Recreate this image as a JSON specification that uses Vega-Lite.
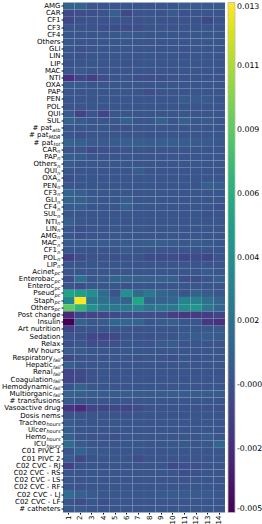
{
"$schema": "https://vega.github.io/schema/vega-lite/v6.json",
"width": 162, "height": 510,
"autosize": {"type": "none"},
"padding": {"left": 63, "top": 2.5, "right": 37, "bottom": 11.5},
"background": "white",
"config": {"view": {"stroke": null}, "axis": {"labelFont": "DejaVu Sans", "labelFontSize": 8, "labelColor": "black", "tickColor": "black", "title": null}},
"datasets": {
"cells": [
{"f":"AMG","c":1,"v":0.0009},{"f":"AMG","c":2,"v":0.0008},{"f":"AMG","c":3,"v":0.0002},{"f":"AMG","c":4,"v":0.0001},{"f":"AMG","c":5,"v":0.0001},{"f":"AMG","c":6,"v":0.0002},{"f":"AMG","c":7,"v":0.0001},{"f":"AMG","c":8,"v":0.0001},{"f":"AMG","c":9,"v":0.0002},{"f":"AMG","c":10,"v":0.0001},{"f":"AMG","c":11,"v":0.0003},{"f":"AMG","c":12,"v":0.0003},{"f":"AMG","c":13,"v":0.0004},{"f":"AMG","c":14,"v":0.0003},
{"f":"CAR","c":1,"v":-0.0007},{"f":"CAR","c":2,"v":-0.0004},{"f":"CAR","c":3,"v":-0.0003},{"f":"CAR","c":4,"v":-0.0002},{"f":"CAR","c":5,"v":0.0006},{"f":"CAR","c":6,"v":-0.0008},{"f":"CAR","c":7,"v":0},{"f":"CAR","c":8,"v":0.0001},{"f":"CAR","c":9,"v":-0.0001},{"f":"CAR","c":10,"v":0.0003},{"f":"CAR","c":11,"v":-0.0003},{"f":"CAR","c":12,"v":0.0001},{"f":"CAR","c":13,"v":0},{"f":"CAR","c":14,"v":0.0001},
{"f":"CF1","c":1,"v":-0.0009},{"f":"CF1","c":2,"v":-0.0003},{"f":"CF1","c":3,"v":-0.0002},{"f":"CF1","c":4,"v":-0.0001},{"f":"CF1","c":5,"v":0},{"f":"CF1","c":6,"v":-0.0001},{"f":"CF1","c":7,"v":-0.0002},{"f":"CF1","c":8,"v":0.0001},{"f":"CF1","c":9,"v":-0.0001},{"f":"CF1","c":10,"v":-0.0002},{"f":"CF1","c":11,"v":-0.0002},{"f":"CF1","c":12,"v":-0.0001},{"f":"CF1","c":13,"v":-0.0009},{"f":"CF1","c":14,"v":-0.0001},
{"f":"CF3","c":1,"v":0},{"f":"CF3","c":2,"v":-0.0001},{"f":"CF3","c":3,"v":-0.0002},{"f":"CF3","c":4,"v":-0.0005},{"f":"CF3","c":5,"v":-0.0006},{"f":"CF3","c":6,"v":-0.0006},{"f":"CF3","c":7,"v":-0.0004},{"f":"CF3","c":8,"v":0},{"f":"CF3","c":9,"v":0},{"f":"CF3","c":10,"v":-0.0001},{"f":"CF3","c":11,"v":0.0001},{"f":"CF3","c":12,"v":0},{"f":"CF3","c":13,"v":0.0001},{"f":"CF3","c":14,"v":0},
{"f":"CF4","c":1,"v":0.0001},{"f":"CF4","c":2,"v":0},{"f":"CF4","c":3,"v":0.0001},{"f":"CF4","c":4,"v":0},{"f":"CF4","c":5,"v":0.0002},{"f":"CF4","c":6,"v":0.0004},{"f":"CF4","c":7,"v":0.0002},{"f":"CF4","c":8,"v":0.0001},{"f":"CF4","c":9,"v":0},{"f":"CF4","c":10,"v":0.0001},{"f":"CF4","c":11,"v":0},{"f":"CF4","c":12,"v":0.0002},{"f":"CF4","c":13,"v":0.0001},{"f":"CF4","c":14,"v":0},
{"f":"Others","c":1,"v":0.0002},{"f":"Others","c":2,"v":0.0001},{"f":"Others","c":3,"v":0},{"f":"Others","c":4,"v":0.0001},{"f":"Others","c":5,"v":0},{"f":"Others","c":6,"v":0.0001},{"f":"Others","c":7,"v":0},{"f":"Others","c":8,"v":0},{"f":"Others","c":9,"v":0.0001},{"f":"Others","c":10,"v":0},{"f":"Others","c":11,"v":0.0001},{"f":"Others","c":12,"v":0.0002},{"f":"Others","c":13,"v":0},{"f":"Others","c":14,"v":0.0001},
{"f":"GLI","c":1,"v":0},{"f":"GLI","c":2,"v":-0.0003},{"f":"GLI","c":3,"v":0},{"f":"GLI","c":4,"v":0.0001},{"f":"GLI","c":5,"v":0},{"f":"GLI","c":6,"v":0},{"f":"GLI","c":7,"v":0.0001},{"f":"GLI","c":8,"v":0},{"f":"GLI","c":9,"v":-0.0001},{"f":"GLI","c":10,"v":0},{"f":"GLI","c":11,"v":-0.0001},{"f":"GLI","c":12,"v":0},{"f":"GLI","c":13,"v":0.0001},{"f":"GLI","c":14,"v":0},
{"f":"LIN","c":1,"v":0},{"f":"LIN","c":2,"v":-0.0001},{"f":"LIN","c":3,"v":0.0001},{"f":"LIN","c":4,"v":0},{"f":"LIN","c":5,"v":0.0001},{"f":"LIN","c":6,"v":0},{"f":"LIN","c":7,"v":0},{"f":"LIN","c":8,"v":0.0001},{"f":"LIN","c":9,"v":0},{"f":"LIN","c":10,"v":0.0001},{"f":"LIN","c":11,"v":0},{"f":"LIN","c":12,"v":0},{"f":"LIN","c":13,"v":0.0001},{"f":"LIN","c":14,"v":0},
{"f":"LIP","c":1,"v":-0.0003},{"f":"LIP","c":2,"v":0},{"f":"LIP","c":3,"v":0.0001},{"f":"LIP","c":4,"v":0},{"f":"LIP","c":5,"v":0},{"f":"LIP","c":6,"v":-0.0001},{"f":"LIP","c":7,"v":0},{"f":"LIP","c":8,"v":0.0001},{"f":"LIP","c":9,"v":0},{"f":"LIP","c":10,"v":0},{"f":"LIP","c":11,"v":0.0001},{"f":"LIP","c":12,"v":0},{"f":"LIP","c":13,"v":0},{"f":"LIP","c":14,"v":0.0001},
{"f":"MAC","c":1,"v":0.0001},{"f":"MAC","c":2,"v":0.0003},{"f":"MAC","c":3,"v":0.0001},{"f":"MAC","c":4,"v":0},{"f":"MAC","c":5,"v":0.0001},{"f":"MAC","c":6,"v":0},{"f":"MAC","c":7,"v":0.0001},{"f":"MAC","c":8,"v":0},{"f":"MAC","c":9,"v":0.0001},{"f":"MAC","c":10,"v":0},{"f":"MAC","c":11,"v":0},{"f":"MAC","c":12,"v":0.0001},{"f":"MAC","c":13,"v":0},{"f":"MAC","c":14,"v":0},
{"f":"NTI","c":1,"v":-0.0022},{"f":"NTI","c":2,"v":-0.0009},{"f":"NTI","c":3,"v":-0.0014},{"f":"NTI","c":4,"v":-0.0005},{"f":"NTI","c":5,"v":-0.0001},{"f":"NTI","c":6,"v":0},{"f":"NTI","c":7,"v":-0.0004},{"f":"NTI","c":8,"v":-0.0004},{"f":"NTI","c":9,"v":-0.0004},{"f":"NTI","c":10,"v":-0.0002},{"f":"NTI","c":11,"v":-0.0001},{"f":"NTI","c":12,"v":-0.0001},{"f":"NTI","c":13,"v":-0.0001},{"f":"NTI","c":14,"v":-0.0002},
{"f":"OXA","c":1,"v":0.0004},{"f":"OXA","c":2,"v":0.0003},{"f":"OXA","c":3,"v":0.0001},{"f":"OXA","c":4,"v":0},{"f":"OXA","c":5,"v":0.0001},{"f":"OXA","c":6,"v":0.0001},{"f":"OXA","c":7,"v":0},{"f":"OXA","c":8,"v":0},{"f":"OXA","c":9,"v":0.0001},{"f":"OXA","c":10,"v":0.0001},{"f":"OXA","c":11,"v":0},{"f":"OXA","c":12,"v":0.0001},{"f":"OXA","c":13,"v":0},{"f":"OXA","c":14,"v":0.0001},
{"f":"PAP","c":1,"v":0.0001},{"f":"PAP","c":2,"v":0},{"f":"PAP","c":3,"v":0.0001},{"f":"PAP","c":4,"v":0},{"f":"PAP","c":5,"v":0},{"f":"PAP","c":6,"v":0.0001},{"f":"PAP","c":7,"v":0},{"f":"PAP","c":8,"v":-0.0005},{"f":"PAP","c":9,"v":0},{"f":"PAP","c":10,"v":0.0001},{"f":"PAP","c":11,"v":0},{"f":"PAP","c":12,"v":0},{"f":"PAP","c":13,"v":0.0001},{"f":"PAP","c":14,"v":0},
{"f":"PEN","c":1,"v":0},{"f":"PEN","c":2,"v":0.0001},{"f":"PEN","c":3,"v":0},{"f":"PEN","c":4,"v":0.0001},{"f":"PEN","c":5,"v":0},{"f":"PEN","c":6,"v":0},{"f":"PEN","c":7,"v":0.0001},{"f":"PEN","c":8,"v":0},{"f":"PEN","c":9,"v":0.0001},{"f":"PEN","c":10,"v":0},{"f":"PEN","c":11,"v":0.0004},{"f":"PEN","c":12,"v":0.0004},{"f":"PEN","c":13,"v":0.0003},{"f":"PEN","c":14,"v":0.0001},
{"f":"POL","c":1,"v":0.0001},{"f":"POL","c":2,"v":0},{"f":"POL","c":3,"v":0.0001},{"f":"POL","c":4,"v":0},{"f":"POL","c":5,"v":0},{"f":"POL","c":6,"v":0.0001},{"f":"POL","c":7,"v":0},{"f":"POL","c":8,"v":0.0001},{"f":"POL","c":9,"v":0},{"f":"POL","c":10,"v":0},{"f":"POL","c":11,"v":0.0001},{"f":"POL","c":12,"v":0},{"f":"POL","c":13,"v":0},{"f":"POL","c":14,"v":0.0001},
{"f":"QUI","c":1,"v":0.0003},{"f":"QUI","c":2,"v":-0.0012},{"f":"QUI","c":3,"v":0},{"f":"QUI","c":4,"v":-0.0011},{"f":"QUI","c":5,"v":0},{"f":"QUI","c":6,"v":0.0001},{"f":"QUI","c":7,"v":0},{"f":"QUI","c":8,"v":0.0001},{"f":"QUI","c":9,"v":0},{"f":"QUI","c":10,"v":0},{"f":"QUI","c":11,"v":0.0001},{"f":"QUI","c":12,"v":0},{"f":"QUI","c":13,"v":0},{"f":"QUI","c":14,"v":0.0001},
{"f":"SUL","c":1,"v":0.0008},{"f":"SUL","c":2,"v":0.0003},{"f":"SUL","c":3,"v":0.0001},{"f":"SUL","c":4,"v":0.0001},{"f":"SUL","c":5,"v":0.0002},{"f":"SUL","c":6,"v":0.0007},{"f":"SUL","c":7,"v":0.0001},{"f":"SUL","c":8,"v":0.0002},{"f":"SUL","c":9,"v":0.0009},{"f":"SUL","c":10,"v":0.0001},{"f":"SUL","c":11,"v":0.0006},{"f":"SUL","c":12,"v":0.0002},{"f":"SUL","c":13,"v":0.0004},{"f":"SUL","c":14,"v":0.0001},
{"f":"# pat_atb","c":1,"v":0.0001},{"f":"# pat_atb","c":2,"v":0},{"f":"# pat_atb","c":3,"v":0},{"f":"# pat_atb","c":4,"v":0.0001},{"f":"# pat_atb","c":5,"v":-0.0002},{"f":"# pat_atb","c":6,"v":-0.0003},{"f":"# pat_atb","c":7,"v":0},{"f":"# pat_atb","c":8,"v":0.0001},{"f":"# pat_atb","c":9,"v":0},{"f":"# pat_atb","c":10,"v":0},{"f":"# pat_atb","c":11,"v":0.0001},{"f":"# pat_atb","c":12,"v":0},{"f":"# pat_atb","c":13,"v":0.0001},{"f":"# pat_atb","c":14,"v":0},
{"f":"# pat_MDR","c":1,"v":0.0001},{"f":"# pat_MDR","c":2,"v":-0.0003},{"f":"# pat_MDR","c":3,"v":0},{"f":"# pat_MDR","c":4,"v":0},{"f":"# pat_MDR","c":5,"v":0.0001},{"f":"# pat_MDR","c":6,"v":0},{"f":"# pat_MDR","c":7,"v":0},{"f":"# pat_MDR","c":8,"v":-0.0001},{"f":"# pat_MDR","c":9,"v":0},{"f":"# pat_MDR","c":10,"v":0.0001},{"f":"# pat_MDR","c":11,"v":0},{"f":"# pat_MDR","c":12,"v":0},{"f":"# pat_MDR","c":13,"v":0},{"f":"# pat_MDR","c":14,"v":0.0001},
{"f":"# pat_tot","c":1,"v":0.001},{"f":"# pat_tot","c":2,"v":0.0007},{"f":"# pat_tot","c":3,"v":0.0003},{"f":"# pat_tot","c":4,"v":0.0004},{"f":"# pat_tot","c":5,"v":0.0004},{"f":"# pat_tot","c":6,"v":0.0006},{"f":"# pat_tot","c":7,"v":0.0006},{"f":"# pat_tot","c":8,"v":0.0005},{"f":"# pat_tot","c":9,"v":0.0007},{"f":"# pat_tot","c":10,"v":0.0007},{"f":"# pat_tot","c":11,"v":0.0005},{"f":"# pat_tot","c":12,"v":0.0004},{"f":"# pat_tot","c":13,"v":0.0003},{"f":"# pat_tot","c":14,"v":0.0002},
{"f":"CAR_n","c":1,"v":0},{"f":"CAR_n","c":2,"v":0},{"f":"CAR_n","c":3,"v":-0.0007},{"f":"CAR_n","c":4,"v":-0.0003},{"f":"CAR_n","c":5,"v":-0.0002},{"f":"CAR_n","c":6,"v":0},{"f":"CAR_n","c":7,"v":0.0001},{"f":"CAR_n","c":8,"v":0},{"f":"CAR_n","c":9,"v":0},{"f":"CAR_n","c":10,"v":0.0001},{"f":"CAR_n","c":11,"v":0},{"f":"CAR_n","c":12,"v":0.0001},{"f":"CAR_n","c":13,"v":0},{"f":"CAR_n","c":14,"v":0},
{"f":"PAP_n","c":1,"v":0.0006},{"f":"PAP_n","c":2,"v":0.0004},{"f":"PAP_n","c":3,"v":0.0001},{"f":"PAP_n","c":4,"v":0.0001},{"f":"PAP_n","c":5,"v":0},{"f":"PAP_n","c":6,"v":0},{"f":"PAP_n","c":7,"v":0.0001},{"f":"PAP_n","c":8,"v":0},{"f":"PAP_n","c":9,"v":0.0001},{"f":"PAP_n","c":10,"v":0},{"f":"PAP_n","c":11,"v":0},{"f":"PAP_n","c":12,"v":0.0001},{"f":"PAP_n","c":13,"v":0},{"f":"PAP_n","c":14,"v":0.0001},
{"f":"Others_n","c":1,"v":0.0003},{"f":"Others_n","c":2,"v":0.0001},{"f":"Others_n","c":3,"v":0},{"f":"Others_n","c":4,"v":0.0001},{"f":"Others_n","c":5,"v":0},{"f":"Others_n","c":6,"v":0.0001},{"f":"Others_n","c":7,"v":0},{"f":"Others_n","c":8,"v":0},{"f":"Others_n","c":9,"v":0.0001},{"f":"Others_n","c":10,"v":0},{"f":"Others_n","c":11,"v":0},{"f":"Others_n","c":12,"v":0.0001},{"f":"Others_n","c":13,"v":0.0001},{"f":"Others_n","c":14,"v":0},
{"f":"QUI_n","c":1,"v":0.0001},{"f":"QUI_n","c":2,"v":0},{"f":"QUI_n","c":3,"v":0.0001},{"f":"QUI_n","c":4,"v":0},{"f":"QUI_n","c":5,"v":0.0001},{"f":"QUI_n","c":6,"v":0.0001},{"f":"QUI_n","c":7,"v":0.0005},{"f":"QUI_n","c":8,"v":0},{"f":"QUI_n","c":9,"v":0.0001},{"f":"QUI_n","c":10,"v":0},{"f":"QUI_n","c":11,"v":0.0001},{"f":"QUI_n","c":12,"v":0},{"f":"QUI_n","c":13,"v":0},{"f":"QUI_n","c":14,"v":0.0001},
{"f":"OXA_n","c":1,"v":-0.0004},{"f":"OXA_n","c":2,"v":0},{"f":"OXA_n","c":3,"v":0.0001},{"f":"OXA_n","c":4,"v":0},{"f":"OXA_n","c":5,"v":0},{"f":"OXA_n","c":6,"v":0.0001},{"f":"OXA_n","c":7,"v":0},{"f":"OXA_n","c":8,"v":0.0001},{"f":"OXA_n","c":9,"v":0},{"f":"OXA_n","c":10,"v":0},{"f":"OXA_n","c":11,"v":0.0001},{"f":"OXA_n","c":12,"v":0},{"f":"OXA_n","c":13,"v":0},{"f":"OXA_n","c":14,"v":0.0001},
{"f":"PEN_n","c":1,"v":0.0001},{"f":"PEN_n","c":2,"v":0},{"f":"PEN_n","c":3,"v":0.0001},{"f":"PEN_n","c":4,"v":0},{"f":"PEN_n","c":5,"v":0.0001},{"f":"PEN_n","c":6,"v":0},{"f":"PEN_n","c":7,"v":0.0001},{"f":"PEN_n","c":8,"v":0.0001},{"f":"PEN_n","c":9,"v":0},{"f":"PEN_n","c":10,"v":0.0001},{"f":"PEN_n","c":11,"v":0},{"f":"PEN_n","c":12,"v":0.0001},{"f":"PEN_n","c":13,"v":0.0006},{"f":"PEN_n","c":14,"v":0.0005},
{"f":"CF3_n","c":1,"v":0.001},{"f":"CF3_n","c":2,"v":0.0006},{"f":"CF3_n","c":3,"v":0.0002},{"f":"CF3_n","c":4,"v":0.0001},{"f":"CF3_n","c":5,"v":0.0001},{"f":"CF3_n","c":6,"v":0.0001},{"f":"CF3_n","c":7,"v":0},{"f":"CF3_n","c":8,"v":0.0001},{"f":"CF3_n","c":9,"v":0},{"f":"CF3_n","c":10,"v":0.0001},{"f":"CF3_n","c":11,"v":0},{"f":"CF3_n","c":12,"v":0.0001},{"f":"CF3_n","c":13,"v":0},{"f":"CF3_n","c":14,"v":0.0001},
{"f":"GLI_n","c":1,"v":0.0008},{"f":"GLI_n","c":2,"v":0.0007},{"f":"GLI_n","c":3,"v":0.0004},{"f":"GLI_n","c":4,"v":0.0001},{"f":"GLI_n","c":5,"v":0.0001},{"f":"GLI_n","c":6,"v":0.0005},{"f":"GLI_n","c":7,"v":0.0001},{"f":"GLI_n","c":8,"v":0},{"f":"GLI_n","c":9,"v":0.0001},{"f":"GLI_n","c":10,"v":0},{"f":"GLI_n","c":11,"v":0.0001},{"f":"GLI_n","c":12,"v":0.0001},{"f":"GLI_n","c":13,"v":0},{"f":"GLI_n","c":14,"v":0.0001},
{"f":"CF4_n","c":1,"v":0.0004},{"f":"CF4_n","c":2,"v":0.0005},{"f":"CF4_n","c":3,"v":0.0001},{"f":"CF4_n","c":4,"v":0.0001},{"f":"CF4_n","c":5,"v":0.0001},{"f":"CF4_n","c":6,"v":0.0006},{"f":"CF4_n","c":7,"v":0.0001},{"f":"CF4_n","c":8,"v":0},{"f":"CF4_n","c":9,"v":0.0001},{"f":"CF4_n","c":10,"v":0.0001},{"f":"CF4_n","c":11,"v":0},{"f":"CF4_n","c":12,"v":0.0001},{"f":"CF4_n","c":13,"v":0},{"f":"CF4_n","c":14,"v":-0.0004},
{"f":"SUL_n","c":1,"v":0.0001},{"f":"SUL_n","c":2,"v":0},{"f":"SUL_n","c":3,"v":0},{"f":"SUL_n","c":4,"v":0.0001},{"f":"SUL_n","c":5,"v":0},{"f":"SUL_n","c":6,"v":0.0001},{"f":"SUL_n","c":7,"v":0},{"f":"SUL_n","c":8,"v":0},{"f":"SUL_n","c":9,"v":0.0001},{"f":"SUL_n","c":10,"v":0},{"f":"SUL_n","c":11,"v":0},{"f":"SUL_n","c":12,"v":0.0001},{"f":"SUL_n","c":13,"v":-0.0003},{"f":"SUL_n","c":14,"v":0},
{"f":"NTI_n","c":1,"v":0.0007},{"f":"NTI_n","c":2,"v":0.0002},{"f":"NTI_n","c":3,"v":0.0001},{"f":"NTI_n","c":4,"v":0},{"f":"NTI_n","c":5,"v":0.0001},{"f":"NTI_n","c":6,"v":0},{"f":"NTI_n","c":7,"v":0.0001},{"f":"NTI_n","c":8,"v":0},{"f":"NTI_n","c":9,"v":0},{"f":"NTI_n","c":10,"v":0.0001},{"f":"NTI_n","c":11,"v":0},{"f":"NTI_n","c":12,"v":0.0001},{"f":"NTI_n","c":13,"v":0},{"f":"NTI_n","c":14,"v":0},
{"f":"LIN_n","c":1,"v":0.0001},{"f":"LIN_n","c":2,"v":-0.0004},{"f":"LIN_n","c":3,"v":0},{"f":"LIN_n","c":4,"v":0.0001},{"f":"LIN_n","c":5,"v":0},{"f":"LIN_n","c":6,"v":0.0001},{"f":"LIN_n","c":7,"v":0},{"f":"LIN_n","c":8,"v":0},{"f":"LIN_n","c":9,"v":0.0001},{"f":"LIN_n","c":10,"v":0},{"f":"LIN_n","c":11,"v":0},{"f":"LIN_n","c":12,"v":0.0001},{"f":"LIN_n","c":13,"v":0},{"f":"LIN_n","c":14,"v":0.0001},
{"f":"AMG_n","c":1,"v":0.0001},{"f":"AMG_n","c":2,"v":-0.0003},{"f":"AMG_n","c":3,"v":0},{"f":"AMG_n","c":4,"v":0},{"f":"AMG_n","c":5,"v":0.0001},{"f":"AMG_n","c":6,"v":0},{"f":"AMG_n","c":7,"v":0.0001},{"f":"AMG_n","c":8,"v":0},{"f":"AMG_n","c":9,"v":0},{"f":"AMG_n","c":10,"v":0.0001},{"f":"AMG_n","c":11,"v":0},{"f":"AMG_n","c":12,"v":0},{"f":"AMG_n","c":13,"v":0.0001},{"f":"AMG_n","c":14,"v":0},
{"f":"MAC_n","c":1,"v":0.0004},{"f":"MAC_n","c":2,"v":0.0004},{"f":"MAC_n","c":3,"v":0.0003},{"f":"MAC_n","c":4,"v":0.0003},{"f":"MAC_n","c":5,"v":0.0003},{"f":"MAC_n","c":6,"v":0.0003},{"f":"MAC_n","c":7,"v":0.0003},{"f":"MAC_n","c":8,"v":0.0005},{"f":"MAC_n","c":9,"v":0.0005},{"f":"MAC_n","c":10,"v":0.0003},{"f":"MAC_n","c":11,"v":0.0002},{"f":"MAC_n","c":12,"v":0.0003},{"f":"MAC_n","c":13,"v":0.0002},{"f":"MAC_n","c":14,"v":0.0001},
{"f":"CF1_n","c":1,"v":0.0001},{"f":"CF1_n","c":2,"v":0},{"f":"CF1_n","c":3,"v":0.0001},{"f":"CF1_n","c":4,"v":0},{"f":"CF1_n","c":5,"v":0.0001},{"f":"CF1_n","c":6,"v":0.0004},{"f":"CF1_n","c":7,"v":0.0001},{"f":"CF1_n","c":8,"v":0},{"f":"CF1_n","c":9,"v":0.0001},{"f":"CF1_n","c":10,"v":0},{"f":"CF1_n","c":11,"v":0.0001},{"f":"CF1_n","c":12,"v":0},{"f":"CF1_n","c":13,"v":0},{"f":"CF1_n","c":14,"v":0.0001},
{"f":"POL_n","c":1,"v":-0.0014},{"f":"POL_n","c":2,"v":-0.0005},{"f":"POL_n","c":3,"v":-0.0002},{"f":"POL_n","c":4,"v":-0.0002},{"f":"POL_n","c":5,"v":-0.0003},{"f":"POL_n","c":6,"v":-0.0003},{"f":"POL_n","c":7,"v":-0.0002},{"f":"POL_n","c":8,"v":-0.0007},{"f":"POL_n","c":9,"v":-0.0007},{"f":"POL_n","c":10,"v":-0.0006},{"f":"POL_n","c":11,"v":-0.0009},{"f":"POL_n","c":12,"v":-0.0007},{"f":"POL_n","c":13,"v":-0.001},{"f":"POL_n","c":14,"v":-0.0002},
{"f":"LIP_n","c":1,"v":0.0001},{"f":"LIP_n","c":2,"v":0},{"f":"LIP_n","c":3,"v":0.0001},{"f":"LIP_n","c":4,"v":0.0001},{"f":"LIP_n","c":5,"v":0},{"f":"LIP_n","c":6,"v":0.0001},{"f":"LIP_n","c":7,"v":0},{"f":"LIP_n","c":8,"v":0.0001},{"f":"LIP_n","c":9,"v":0},{"f":"LIP_n","c":10,"v":0.0001},{"f":"LIP_n","c":11,"v":0},{"f":"LIP_n","c":12,"v":0.0001},{"f":"LIP_n","c":13,"v":0},{"f":"LIP_n","c":14,"v":0},
{"f":"Acinet_pc","c":1,"v":0},{"f":"Acinet_pc","c":2,"v":0.0001},{"f":"Acinet_pc","c":3,"v":0},{"f":"Acinet_pc","c":4,"v":0.0001},{"f":"Acinet_pc","c":5,"v":0},{"f":"Acinet_pc","c":6,"v":0},{"f":"Acinet_pc","c":7,"v":0.0001},{"f":"Acinet_pc","c":8,"v":0},{"f":"Acinet_pc","c":9,"v":0.0001},{"f":"Acinet_pc","c":10,"v":0},{"f":"Acinet_pc","c":11,"v":0},{"f":"Acinet_pc","c":12,"v":0.0001},{"f":"Acinet_pc","c":13,"v":0.0004},{"f":"Acinet_pc","c":14,"v":0.0001},
{"f":"Enterobac_pc","c":1,"v":-0.0004},{"f":"Enterobac_pc","c":2,"v":0.0018},{"f":"Enterobac_pc","c":3,"v":0.0002},{"f":"Enterobac_pc","c":4,"v":0.0003},{"f":"Enterobac_pc","c":5,"v":0.0009},{"f":"Enterobac_pc","c":6,"v":0.0009},{"f":"Enterobac_pc","c":7,"v":0.0006},{"f":"Enterobac_pc","c":8,"v":0.0006},{"f":"Enterobac_pc","c":9,"v":0.0006},{"f":"Enterobac_pc","c":10,"v":0.0007},{"f":"Enterobac_pc","c":11,"v":-0.0004},{"f":"Enterobac_pc","c":12,"v":-0.0005},{"f":"Enterobac_pc","c":13,"v":0.0001},{"f":"Enterobac_pc","c":14,"v":0.0005},
{"f":"Enteroc_pc","c":1,"v":0.0001},{"f":"Enteroc_pc","c":2,"v":-0.0005},{"f":"Enteroc_pc","c":3,"v":0.0002},{"f":"Enteroc_pc","c":4,"v":0.0001},{"f":"Enteroc_pc","c":5,"v":0.0001},{"f":"Enteroc_pc","c":6,"v":-0.0003},{"f":"Enteroc_pc","c":7,"v":0},{"f":"Enteroc_pc","c":8,"v":0.0001},{"f":"Enteroc_pc","c":9,"v":0.0001},{"f":"Enteroc_pc","c":10,"v":0},{"f":"Enteroc_pc","c":11,"v":0.0001},{"f":"Enteroc_pc","c":12,"v":0},{"f":"Enteroc_pc","c":13,"v":0.0001},{"f":"Enteroc_pc","c":14,"v":0},
{"f":"Pseud_pc","c":1,"v":0.0057},{"f":"Pseud_pc","c":2,"v":0.0052},{"f":"Pseud_pc","c":3,"v":0.004},{"f":"Pseud_pc","c":4,"v":0.0016},{"f":"Pseud_pc","c":5,"v":-0.0001},{"f":"Pseud_pc","c":6,"v":0.0042},{"f":"Pseud_pc","c":7,"v":0.0014},{"f":"Pseud_pc","c":8,"v":0.0024},{"f":"Pseud_pc","c":9,"v":0.0011},{"f":"Pseud_pc","c":10,"v":0.0009},{"f":"Pseud_pc","c":11,"v":0},{"f":"Pseud_pc","c":12,"v":0.0009},{"f":"Pseud_pc","c":13,"v":0.0003},{"f":"Pseud_pc","c":14,"v":0.0002},
{"f":"Staph_pc","c":1,"v":0.0033},{"f":"Staph_pc","c":2,"v":0.013},{"f":"Staph_pc","c":3,"v":0.0024},{"f":"Staph_pc","c":4,"v":0.0019},{"f":"Staph_pc","c":5,"v":0.0012},{"f":"Staph_pc","c":6,"v":0.0008},{"f":"Staph_pc","c":7,"v":0.0058},{"f":"Staph_pc","c":8,"v":0.0009},{"f":"Staph_pc","c":9,"v":0.0008},{"f":"Staph_pc","c":10,"v":0.0011},{"f":"Staph_pc","c":11,"v":0.0033},{"f":"Staph_pc","c":12,"v":0.0031},{"f":"Staph_pc","c":13,"v":0.0019},{"f":"Staph_pc","c":14,"v":0.0011},
{"f":"Others_pc","c":1,"v":0.0086},{"f":"Others_pc","c":2,"v":0.007},{"f":"Others_pc","c":3,"v":0.0043},{"f":"Others_pc","c":4,"v":0.0027},{"f":"Others_pc","c":5,"v":0.0025},{"f":"Others_pc","c":6,"v":0.0026},{"f":"Others_pc","c":7,"v":0.0033},{"f":"Others_pc","c":8,"v":0.0023},{"f":"Others_pc","c":9,"v":0.0025},{"f":"Others_pc","c":10,"v":0.0024},{"f":"Others_pc","c":11,"v":0.004},{"f":"Others_pc","c":12,"v":0.0046},{"f":"Others_pc","c":13,"v":0.0024},{"f":"Others_pc","c":14,"v":0.0012},
{"f":"Post change","c":1,"v":-0.0026},{"f":"Post change","c":2,"v":-0.001},{"f":"Post change","c":3,"v":-0.0009},{"f":"Post change","c":4,"v":-0.0009},{"f":"Post change","c":5,"v":-0.0007},{"f":"Post change","c":6,"v":-0.0004},{"f":"Post change","c":7,"v":-0.0005},{"f":"Post change","c":8,"v":-0.0005},{"f":"Post change","c":9,"v":-0.0006},{"f":"Post change","c":10,"v":-0.0014},{"f":"Post change","c":11,"v":-0.0018},{"f":"Post change","c":12,"v":-0.0016},{"f":"Post change","c":13,"v":-0.0015},{"f":"Post change","c":14,"v":-0.001},
{"f":"Insulin","c":1,"v":-0.0046},{"f":"Insulin","c":2,"v":0.0008},{"f":"Insulin","c":3,"v":0.0002},{"f":"Insulin","c":4,"v":0.0003},{"f":"Insulin","c":5,"v":0.0012},{"f":"Insulin","c":6,"v":0.0011},{"f":"Insulin","c":7,"v":0.001},{"f":"Insulin","c":8,"v":0.0001},{"f":"Insulin","c":9,"v":0.0003},{"f":"Insulin","c":10,"v":0.0006},{"f":"Insulin","c":11,"v":0.0001},{"f":"Insulin","c":12,"v":0},{"f":"Insulin","c":13,"v":-0.0017},{"f":"Insulin","c":14,"v":-0.0022},
{"f":"Art nutrition","c":1,"v":-0.001},{"f":"Art nutrition","c":2,"v":-0.0002},{"f":"Art nutrition","c":3,"v":0},{"f":"Art nutrition","c":4,"v":-0.0001},{"f":"Art nutrition","c":5,"v":0},{"f":"Art nutrition","c":6,"v":0},{"f":"Art nutrition","c":7,"v":-0.0002},{"f":"Art nutrition","c":8,"v":0},{"f":"Art nutrition","c":9,"v":0.0001},{"f":"Art nutrition","c":10,"v":0},{"f":"Art nutrition","c":11,"v":0.0001},{"f":"Art nutrition","c":12,"v":0.0002},{"f":"Art nutrition","c":13,"v":0.0002},{"f":"Art nutrition","c":14,"v":0.0003},
{"f":"Sedation","c":1,"v":0},{"f":"Sedation","c":2,"v":-0.0002},{"f":"Sedation","c":3,"v":-0.0009},{"f":"Sedation","c":4,"v":-0.0011},{"f":"Sedation","c":5,"v":-0.0008},{"f":"Sedation","c":6,"v":-0.0001},{"f":"Sedation","c":7,"v":-0.0001},{"f":"Sedation","c":8,"v":-0.0003},{"f":"Sedation","c":9,"v":0},{"f":"Sedation","c":10,"v":0.0001},{"f":"Sedation","c":11,"v":0.0003},{"f":"Sedation","c":12,"v":0.0005},{"f":"Sedation","c":13,"v":0.0005},{"f":"Sedation","c":14,"v":0.0003},
{"f":"Relax","c":1,"v":-0.0005},{"f":"Relax","c":2,"v":0},{"f":"Relax","c":3,"v":-0.0004},{"f":"Relax","c":4,"v":-0.0005},{"f":"Relax","c":5,"v":-0.0003},{"f":"Relax","c":6,"v":0},{"f":"Relax","c":7,"v":0.0001},{"f":"Relax","c":8,"v":0},{"f":"Relax","c":9,"v":0.0003},{"f":"Relax","c":10,"v":0.0004},{"f":"Relax","c":11,"v":0},{"f":"Relax","c":12,"v":0.0001},{"f":"Relax","c":13,"v":0},{"f":"Relax","c":14,"v":0},
{"f":"MV hours","c":1,"v":0.0003},{"f":"MV hours","c":2,"v":0.0003},{"f":"MV hours","c":3,"v":0.0001},{"f":"MV hours","c":4,"v":0.0001},{"f":"MV hours","c":5,"v":0},{"f":"MV hours","c":6,"v":0.0002},{"f":"MV hours","c":7,"v":0.0001},{"f":"MV hours","c":8,"v":0},{"f":"MV hours","c":9,"v":0.0001},{"f":"MV hours","c":10,"v":0.0002},{"f":"MV hours","c":11,"v":0.0001},{"f":"MV hours","c":12,"v":0},{"f":"MV hours","c":13,"v":0.0001},{"f":"MV hours","c":14,"v":0},
{"f":"Respiratory_fail","c":1,"v":-0.0008},{"f":"Respiratory_fail","c":2,"v":-0.0002},{"f":"Respiratory_fail","c":3,"v":0},{"f":"Respiratory_fail","c":4,"v":-0.0001},{"f":"Respiratory_fail","c":5,"v":0},{"f":"Respiratory_fail","c":6,"v":0},{"f":"Respiratory_fail","c":7,"v":-0.0001},{"f":"Respiratory_fail","c":8,"v":0},{"f":"Respiratory_fail","c":9,"v":-0.0001},{"f":"Respiratory_fail","c":10,"v":-0.0004},{"f":"Respiratory_fail","c":11,"v":0},{"f":"Respiratory_fail","c":12,"v":-0.0001},{"f":"Respiratory_fail","c":13,"v":0},{"f":"Respiratory_fail","c":14,"v":0},
{"f":"Hepatic_fail","c":1,"v":0.0007},{"f":"Hepatic_fail","c":2,"v":0.0001},{"f":"Hepatic_fail","c":3,"v":0},{"f":"Hepatic_fail","c":4,"v":0.0001},{"f":"Hepatic_fail","c":5,"v":0},{"f":"Hepatic_fail","c":6,"v":0},{"f":"Hepatic_fail","c":7,"v":0.0001},{"f":"Hepatic_fail","c":8,"v":0},{"f":"Hepatic_fail","c":9,"v":0},{"f":"Hepatic_fail","c":10,"v":0.0001},{"f":"Hepatic_fail","c":11,"v":0},{"f":"Hepatic_fail","c":12,"v":0},{"f":"Hepatic_fail","c":13,"v":0.0001},{"f":"Hepatic_fail","c":14,"v":0},
{"f":"Renal_fail","c":1,"v":-0.0011},{"f":"Renal_fail","c":2,"v":-0.0007},{"f":"Renal_fail","c":3,"v":-0.0001},{"f":"Renal_fail","c":4,"v":0},{"f":"Renal_fail","c":5,"v":-0.0001},{"f":"Renal_fail","c":6,"v":0},{"f":"Renal_fail","c":7,"v":-0.0001},{"f":"Renal_fail","c":8,"v":-0.0001},{"f":"Renal_fail","c":9,"v":0},{"f":"Renal_fail","c":10,"v":-0.0002},{"f":"Renal_fail","c":11,"v":0},{"f":"Renal_fail","c":12,"v":-0.0001},{"f":"Renal_fail","c":13,"v":0},{"f":"Renal_fail","c":14,"v":-0.0001},
{"f":"Coagulation_fail","c":1,"v":-0.001},{"f":"Coagulation_fail","c":2,"v":-0.0008},{"f":"Coagulation_fail","c":3,"v":-0.0002},{"f":"Coagulation_fail","c":4,"v":0},{"f":"Coagulation_fail","c":5,"v":-0.0001},{"f":"Coagulation_fail","c":6,"v":0},{"f":"Coagulation_fail","c":7,"v":0},{"f":"Coagulation_fail","c":8,"v":-0.0001},{"f":"Coagulation_fail","c":9,"v":0},{"f":"Coagulation_fail","c":10,"v":0},{"f":"Coagulation_fail","c":11,"v":-0.0001},{"f":"Coagulation_fail","c":12,"v":0},{"f":"Coagulation_fail","c":13,"v":0},{"f":"Coagulation_fail","c":14,"v":0},
{"f":"Hemodynamic_fail","c":1,"v":0.0001},{"f":"Hemodynamic_fail","c":2,"v":0.0008},{"f":"Hemodynamic_fail","c":3,"v":0.0002},{"f":"Hemodynamic_fail","c":4,"v":0.0001},{"f":"Hemodynamic_fail","c":5,"v":0},{"f":"Hemodynamic_fail","c":6,"v":0.0001},{"f":"Hemodynamic_fail","c":7,"v":0},{"f":"Hemodynamic_fail","c":8,"v":0.0001},{"f":"Hemodynamic_fail","c":9,"v":0},{"f":"Hemodynamic_fail","c":10,"v":0.0001},{"f":"Hemodynamic_fail","c":11,"v":0.0001},{"f":"Hemodynamic_fail","c":12,"v":0},{"f":"Hemodynamic_fail","c":13,"v":0.0001},{"f":"Hemodynamic_fail","c":14,"v":0},
{"f":"Multiorganic_fail","c":1,"v":0.0008},{"f":"Multiorganic_fail","c":2,"v":0.0007},{"f":"Multiorganic_fail","c":3,"v":0.0005},{"f":"Multiorganic_fail","c":4,"v":0.0004},{"f":"Multiorganic_fail","c":5,"v":0.0004},{"f":"Multiorganic_fail","c":6,"v":0.0005},{"f":"Multiorganic_fail","c":7,"v":0.0003},{"f":"Multiorganic_fail","c":8,"v":0.0003},{"f":"Multiorganic_fail","c":9,"v":0.0004},{"f":"Multiorganic_fail","c":10,"v":0.0005},{"f":"Multiorganic_fail","c":11,"v":0.0004},{"f":"Multiorganic_fail","c":12,"v":0.0005},{"f":"Multiorganic_fail","c":13,"v":0.0004},{"f":"Multiorganic_fail","c":14,"v":0.0003},
{"f":"# transfusions","c":1,"v":0.0002},{"f":"# transfusions","c":2,"v":0.0001},{"f":"# transfusions","c":3,"v":0.0001},{"f":"# transfusions","c":4,"v":0},{"f":"# transfusions","c":5,"v":0.0001},{"f":"# transfusions","c":6,"v":0},{"f":"# transfusions","c":7,"v":0},{"f":"# transfusions","c":8,"v":0.0001},{"f":"# transfusions","c":9,"v":0},{"f":"# transfusions","c":10,"v":0.0001},{"f":"# transfusions","c":11,"v":0},{"f":"# transfusions","c":12,"v":0.0001},{"f":"# transfusions","c":13,"v":0},{"f":"# transfusions","c":14,"v":0},
{"f":"Vasoactive drug","c":1,"v":-0.002},{"f":"Vasoactive drug","c":2,"v":-0.0025},{"f":"Vasoactive drug","c":3,"v":-0.0012},{"f":"Vasoactive drug","c":4,"v":-0.001},{"f":"Vasoactive drug","c":5,"v":-0.0009},{"f":"Vasoactive drug","c":6,"v":-0.0011},{"f":"Vasoactive drug","c":7,"v":-0.0006},{"f":"Vasoactive drug","c":8,"v":-0.0002},{"f":"Vasoactive drug","c":9,"v":-0.0001},{"f":"Vasoactive drug","c":10,"v":-0.0001},{"f":"Vasoactive drug","c":11,"v":-0.0001},{"f":"Vasoactive drug","c":12,"v":-0.0002},{"f":"Vasoactive drug","c":13,"v":-0.0001},{"f":"Vasoactive drug","c":14,"v":-0.0002},
{"f":"Dosis nems","c":1,"v":-0.0002},{"f":"Dosis nems","c":2,"v":0},{"f":"Dosis nems","c":3,"v":0},{"f":"Dosis nems","c":4,"v":0},{"f":"Dosis nems","c":5,"v":-0.0001},{"f":"Dosis nems","c":6,"v":-0.0002},{"f":"Dosis nems","c":7,"v":0},{"f":"Dosis nems","c":8,"v":0},{"f":"Dosis nems","c":9,"v":0},{"f":"Dosis nems","c":10,"v":-0.0001},{"f":"Dosis nems","c":11,"v":-0.0001},{"f":"Dosis nems","c":12,"v":0},{"f":"Dosis nems","c":13,"v":0},{"f":"Dosis nems","c":14,"v":0.0001},
{"f":"Tracheo_hours","c":1,"v":0.0004},{"f":"Tracheo_hours","c":2,"v":0.0001},{"f":"Tracheo_hours","c":3,"v":0.0001},{"f":"Tracheo_hours","c":4,"v":0},{"f":"Tracheo_hours","c":5,"v":0.0001},{"f":"Tracheo_hours","c":6,"v":0},{"f":"Tracheo_hours","c":7,"v":0.0001},{"f":"Tracheo_hours","c":8,"v":0},{"f":"Tracheo_hours","c":9,"v":0},{"f":"Tracheo_hours","c":10,"v":0.0001},{"f":"Tracheo_hours","c":11,"v":0},{"f":"Tracheo_hours","c":12,"v":0.0001},{"f":"Tracheo_hours","c":13,"v":0},{"f":"Tracheo_hours","c":14,"v":0},
{"f":"Ulcer_hours","c":1,"v":0.0005},{"f":"Ulcer_hours","c":2,"v":0.0001},{"f":"Ulcer_hours","c":3,"v":0},{"f":"Ulcer_hours","c":4,"v":0.0001},{"f":"Ulcer_hours","c":5,"v":0},{"f":"Ulcer_hours","c":6,"v":0.0001},{"f":"Ulcer_hours","c":7,"v":0},{"f":"Ulcer_hours","c":8,"v":0},{"f":"Ulcer_hours","c":9,"v":0.0001},{"f":"Ulcer_hours","c":10,"v":0},{"f":"Ulcer_hours","c":11,"v":0.0001},{"f":"Ulcer_hours","c":12,"v":0},{"f":"Ulcer_hours","c":13,"v":0},{"f":"Ulcer_hours","c":14,"v":0.0001},
{"f":"Hemo_hours","c":1,"v":0.0007},{"f":"Hemo_hours","c":2,"v":0.0001},{"f":"Hemo_hours","c":3,"v":-0.0002},{"f":"Hemo_hours","c":4,"v":-0.0002},{"f":"Hemo_hours","c":5,"v":-0.0003},{"f":"Hemo_hours","c":6,"v":0},{"f":"Hemo_hours","c":7,"v":0.0001},{"f":"Hemo_hours","c":8,"v":0},{"f":"Hemo_hours","c":9,"v":0.0001},{"f":"Hemo_hours","c":10,"v":0},{"f":"Hemo_hours","c":11,"v":0.0001},{"f":"Hemo_hours","c":12,"v":0},{"f":"Hemo_hours","c":13,"v":0.0003},{"f":"Hemo_hours","c":14,"v":0.0001},
{"f":"ICU_hours","c":1,"v":0.0015},{"f":"ICU_hours","c":2,"v":0.0003},{"f":"ICU_hours","c":3,"v":0.0001},{"f":"ICU_hours","c":4,"v":0.0001},{"f":"ICU_hours","c":5,"v":0.0001},{"f":"ICU_hours","c":6,"v":0.0001},{"f":"ICU_hours","c":7,"v":0.0002},{"f":"ICU_hours","c":8,"v":0.0001},{"f":"ICU_hours","c":9,"v":0.0001},{"f":"ICU_hours","c":10,"v":0.0002},{"f":"ICU_hours","c":11,"v":0.0002},{"f":"ICU_hours","c":12,"v":0.0001},{"f":"ICU_hours","c":13,"v":0.0002},{"f":"ICU_hours","c":14,"v":0.0012},
{"f":"C01 PIVC 1","c":1,"v":0.0001},{"f":"C01 PIVC 1","c":2,"v":0.0009},{"f":"C01 PIVC 1","c":3,"v":0.0003},{"f":"C01 PIVC 1","c":4,"v":0.0002},{"f":"C01 PIVC 1","c":5,"v":0.0001},{"f":"C01 PIVC 1","c":6,"v":0},{"f":"C01 PIVC 1","c":7,"v":0.0001},{"f":"C01 PIVC 1","c":8,"v":0},{"f":"C01 PIVC 1","c":9,"v":0},{"f":"C01 PIVC 1","c":10,"v":0.0001},{"f":"C01 PIVC 1","c":11,"v":0.0001},{"f":"C01 PIVC 1","c":12,"v":0},{"f":"C01 PIVC 1","c":13,"v":0.0001},{"f":"C01 PIVC 1","c":14,"v":0},
{"f":"C01 PIVC 2","c":1,"v":0.0004},{"f":"C01 PIVC 2","c":2,"v":-0.0008},{"f":"C01 PIVC 2","c":3,"v":-0.0001},{"f":"C01 PIVC 2","c":4,"v":0},{"f":"C01 PIVC 2","c":5,"v":0},{"f":"C01 PIVC 2","c":6,"v":0},{"f":"C01 PIVC 2","c":7,"v":-0.0006},{"f":"C01 PIVC 2","c":8,"v":0},{"f":"C01 PIVC 2","c":9,"v":0},{"f":"C01 PIVC 2","c":10,"v":0},{"f":"C01 PIVC 2","c":11,"v":0},{"f":"C01 PIVC 2","c":12,"v":0},{"f":"C01 PIVC 2","c":13,"v":0},{"f":"C01 PIVC 2","c":14,"v":0},
{"f":"C02 CVC - RJ","c":1,"v":-0.0012},{"f":"C02 CVC - RJ","c":2,"v":0},{"f":"C02 CVC - RJ","c":3,"v":0.0001},{"f":"C02 CVC - RJ","c":4,"v":0},{"f":"C02 CVC - RJ","c":5,"v":0},{"f":"C02 CVC - RJ","c":6,"v":0},{"f":"C02 CVC - RJ","c":7,"v":0},{"f":"C02 CVC - RJ","c":8,"v":0},{"f":"C02 CVC - RJ","c":9,"v":0},{"f":"C02 CVC - RJ","c":10,"v":-0.0007},{"f":"C02 CVC - RJ","c":11,"v":-0.0003},{"f":"C02 CVC - RJ","c":12,"v":-0.0003},{"f":"C02 CVC - RJ","c":13,"v":0},{"f":"C02 CVC - RJ","c":14,"v":0},
{"f":"C02 CVC - RS","c":1,"v":0},{"f":"C02 CVC - RS","c":2,"v":-0.0001},{"f":"C02 CVC - RS","c":3,"v":0.0001},{"f":"C02 CVC - RS","c":4,"v":0},{"f":"C02 CVC - RS","c":5,"v":0},{"f":"C02 CVC - RS","c":6,"v":0},{"f":"C02 CVC - RS","c":7,"v":0},{"f":"C02 CVC - RS","c":8,"v":0},{"f":"C02 CVC - RS","c":9,"v":0},{"f":"C02 CVC - RS","c":10,"v":0},{"f":"C02 CVC - RS","c":11,"v":-0.0004},{"f":"C02 CVC - RS","c":12,"v":-0.0003},{"f":"C02 CVC - RS","c":13,"v":0},{"f":"C02 CVC - RS","c":14,"v":0},
{"f":"C02 CVC - LS","c":1,"v":0.0001},{"f":"C02 CVC - LS","c":2,"v":0},{"f":"C02 CVC - LS","c":3,"v":0.0001},{"f":"C02 CVC - LS","c":4,"v":0},{"f":"C02 CVC - LS","c":5,"v":0},{"f":"C02 CVC - LS","c":6,"v":0},{"f":"C02 CVC - LS","c":7,"v":0.0001},{"f":"C02 CVC - LS","c":8,"v":0},{"f":"C02 CVC - LS","c":9,"v":0},{"f":"C02 CVC - LS","c":10,"v":0},{"f":"C02 CVC - LS","c":11,"v":0},{"f":"C02 CVC - LS","c":12,"v":0.0001},{"f":"C02 CVC - LS","c":13,"v":0},{"f":"C02 CVC - LS","c":14,"v":0},
{"f":"C02 CVC - RF","c":1,"v":0},{"f":"C02 CVC - RF","c":2,"v":-0.0002},{"f":"C02 CVC - RF","c":3,"v":0},{"f":"C02 CVC - RF","c":4,"v":0},{"f":"C02 CVC - RF","c":5,"v":0},{"f":"C02 CVC - RF","c":6,"v":0},{"f":"C02 CVC - RF","c":7,"v":0},{"f":"C02 CVC - RF","c":8,"v":0},{"f":"C02 CVC - RF","c":9,"v":0},{"f":"C02 CVC - RF","c":10,"v":0},{"f":"C02 CVC - RF","c":11,"v":0},{"f":"C02 CVC - RF","c":12,"v":0.0001},{"f":"C02 CVC - RF","c":13,"v":0},{"f":"C02 CVC - RF","c":14,"v":0},
{"f":"C02 CVC - LJ","c":1,"v":0.0016},{"f":"C02 CVC - LJ","c":2,"v":0.0009},{"f":"C02 CVC - LJ","c":3,"v":0.0004},{"f":"C02 CVC - LJ","c":4,"v":0.0002},{"f":"C02 CVC - LJ","c":5,"v":0.0002},{"f":"C02 CVC - LJ","c":6,"v":0.0002},{"f":"C02 CVC - LJ","c":7,"v":0.0002},{"f":"C02 CVC - LJ","c":8,"v":0.0002},{"f":"C02 CVC - LJ","c":9,"v":0.0004},{"f":"C02 CVC - LJ","c":10,"v":0.0004},{"f":"C02 CVC - LJ","c":11,"v":0.0004},{"f":"C02 CVC - LJ","c":12,"v":0.0004},{"f":"C02 CVC - LJ","c":13,"v":0.0003},{"f":"C02 CVC - LJ","c":14,"v":0.0002},
{"f":"C02 CVC - LF","c":1,"v":0.0001},{"f":"C02 CVC - LF","c":2,"v":-0.0006},{"f":"C02 CVC - LF","c":3,"v":0.0001},{"f":"C02 CVC - LF","c":4,"v":-0.0004},{"f":"C02 CVC - LF","c":5,"v":0.0001},{"f":"C02 CVC - LF","c":6,"v":0},{"f":"C02 CVC - LF","c":7,"v":0},{"f":"C02 CVC - LF","c":8,"v":0},{"f":"C02 CVC - LF","c":9,"v":0},{"f":"C02 CVC - LF","c":10,"v":0},{"f":"C02 CVC - LF","c":11,"v":0},{"f":"C02 CVC - LF","c":12,"v":0.0001},{"f":"C02 CVC - LF","c":13,"v":0},{"f":"C02 CVC - LF","c":14,"v":0},
{"f":"# catheters","c":1,"v":0.0002},{"f":"# catheters","c":2,"v":0.0003},{"f":"# catheters","c":3,"v":0.0001},{"f":"# catheters","c":4,"v":0.0001},{"f":"# catheters","c":5,"v":0},{"f":"# catheters","c":6,"v":0.0001},{"f":"# catheters","c":7,"v":0},{"f":"# catheters","c":8,"v":0.0001},{"f":"# catheters","c":9,"v":0},{"f":"# catheters","c":10,"v":0.0001},{"f":"# catheters","c":11,"v":0},{"f":"# catheters","c":12,"v":0.0001},{"f":"# catheters","c":13,"v":0.0001},{"f":"# catheters","c":14,"v":0}
],
"labels": [
{"f":"AMG","main":"AMG","sub":""},{"f":"CAR","main":"CAR","sub":""},{"f":"CF1","main":"CF1","sub":""},{"f":"CF3","main":"CF3","sub":""},{"f":"CF4","main":"CF4","sub":""},{"f":"Others","main":"Others","sub":""},{"f":"GLI","main":"GLI","sub":""},{"f":"LIN","main":"LIN","sub":""},{"f":"LIP","main":"LIP","sub":""},{"f":"MAC","main":"MAC","sub":""},{"f":"NTI","main":"NTI","sub":""},{"f":"OXA","main":"OXA","sub":""},{"f":"PAP","main":"PAP","sub":""},{"f":"PEN","main":"PEN","sub":""},{"f":"POL","main":"POL","sub":""},{"f":"QUI","main":"QUI","sub":""},{"f":"SUL","main":"SUL","sub":""},
{"f":"# pat_atb","main":"# pat","sub":"atb"},{"f":"# pat_MDR","main":"# pat","sub":"MDR"},{"f":"# pat_tot","main":"# pat","sub":"tot"},
{"f":"CAR_n","main":"CAR","sub":"n"},{"f":"PAP_n","main":"PAP","sub":"n"},{"f":"Others_n","main":"Others","sub":"n"},{"f":"QUI_n","main":"QUI","sub":"n"},{"f":"OXA_n","main":"OXA","sub":"n"},{"f":"PEN_n","main":"PEN","sub":"n"},{"f":"CF3_n","main":"CF3","sub":"n"},{"f":"GLI_n","main":"GLI","sub":"n"},{"f":"CF4_n","main":"CF4","sub":"n"},{"f":"SUL_n","main":"SUL","sub":"n"},{"f":"NTI_n","main":"NTI","sub":"n"},{"f":"LIN_n","main":"LIN","sub":"n"},{"f":"AMG_n","main":"AMG","sub":"n"},{"f":"MAC_n","main":"MAC","sub":"n"},{"f":"CF1_n","main":"CF1","sub":"n"},{"f":"POL_n","main":"POL","sub":"n"},{"f":"LIP_n","main":"LIP","sub":"n"},
{"f":"Acinet_pc","main":"Acinet","sub":"pc"},{"f":"Enterobac_pc","main":"Enterobac","sub":"pc"},{"f":"Enteroc_pc","main":"Enteroc","sub":"pc"},{"f":"Pseud_pc","main":"Pseud","sub":"pc"},{"f":"Staph_pc","main":"Staph","sub":"pc"},{"f":"Others_pc","main":"Others","sub":"pc"},
{"f":"Post change","main":"Post change","sub":""},{"f":"Insulin","main":"Insulin","sub":""},{"f":"Art nutrition","main":"Art nutrition","sub":""},{"f":"Sedation","main":"Sedation","sub":""},{"f":"Relax","main":"Relax","sub":""},{"f":"MV hours","main":"MV hours","sub":""},
{"f":"Respiratory_fail","main":"Respiratory","sub":"fail"},{"f":"Hepatic_fail","main":"Hepatic","sub":"fail"},{"f":"Renal_fail","main":"Renal","sub":"fail"},{"f":"Coagulation_fail","main":"Coagulation","sub":"fail"},{"f":"Hemodynamic_fail","main":"Hemodynamic","sub":"fail"},{"f":"Multiorganic_fail","main":"Multiorganic","sub":"fail"},
{"f":"# transfusions","main":"# transfusions","sub":""},{"f":"Vasoactive drug","main":"Vasoactive drug","sub":""},{"f":"Dosis nems","main":"Dosis nems","sub":""},
{"f":"Tracheo_hours","main":"Tracheo","sub":"hours"},{"f":"Ulcer_hours","main":"Ulcer","sub":"hours"},{"f":"Hemo_hours","main":"Hemo","sub":"hours"},{"f":"ICU_hours","main":"ICU","sub":"hours"},
{"f":"C01 PIVC 1","main":"C01 PIVC 1","sub":""},{"f":"C01 PIVC 2","main":"C01 PIVC 2","sub":""},{"f":"C02 CVC - RJ","main":"C02 CVC - RJ","sub":""},{"f":"C02 CVC - RS","main":"C02 CVC - RS","sub":""},{"f":"C02 CVC - LS","main":"C02 CVC - LS","sub":""},{"f":"C02 CVC - RF","main":"C02 CVC - RF","sub":""},{"f":"C02 CVC - LJ","main":"C02 CVC - LJ","sub":""},{"f":"C02 CVC - LF","main":"C02 CVC - LF","sub":""},{"f":"# catheters","main":"# catheters","sub":""}
]
},
"layer": [
{
"data": {"name": "cells"},
"mark": {"type": "rect", "stroke": "white", "strokeWidth": 0.5, "strokeOpacity": 0.07},
"encoding": {
"x": {"field": "c", "type": "ordinal", "title": null, "axis": {"labelAngle": -90, "tickSize": 1.5, "labelPadding": 1, "labelFontSize": 7, "domain": false, "title": null}},
"y": {"field": "f", "type": "nominal", "sort": null, "title": null, "axis": {"labels": false, "tickSize": 2, "domain": false, "title": null}},
"color": {"field": "v", "type": "quantitative", "scale": {"scheme": "viridis", "domain": [-0.0046, 0.013], "nice": false, "zero": false},
"legend": {"title": null, "orient": "right", "offset": 3, "gradientLength": 510, "gradientThickness": 7, "padding": 0,
"values": [-0.0046, -0.0024, -0.0002, 0.002, 0.0042, 0.0064, 0.0086, 0.0108, 0.013],
"labelExpr": "datum.value < 0 ? '-' + format(-datum.value, '.3f') : format(datum.value, '.3f')",
"labelFont": "DejaVu Sans", "labelFontSize": 7.8, "labelColor": "black", "labelOffset": 2, "labelBaseline": "middle", "labelOverlap": false,
"gradientStrokeColor": "#bbbbbb", "gradientStrokeWidth": 0.8}}
}
},
{
"data": {"name": "labels"},
"mark": {"type": "text", "align": "right", "baseline": "middle", "font": "DejaVu Sans", "fontSize": 7, "color": "black",
"dx": {"expr": "datum.sub == 'n' ? -6 : datum.sub == 'pc' ? -8.7 : datum.sub == 'fail' ? -10.4 : datum.sub == 'hours' ? -16.9 : datum.sub == 'atb' ? -11 : datum.sub == 'MDR' ? -14.4 : datum.sub == 'tot' ? -9.8 : -2.5"}},
"encoding": {
"x": {"datum": 1, "type": "ordinal", "bandPosition": 0, "title": null},
"y": {"field": "f", "type": "nominal", "sort": null, "title": null},
"text": {"field": "main"}
}
},
{
"data": {"name": "labels"},
"mark": {"type": "text", "align": "right", "baseline": "middle", "font": "DejaVu Sans", "fontStyle": "italic", "fontSize": 5, "color": "black", "dx": -2.5, "dy": 1.5},
"encoding": {
"x": {"datum": 1, "type": "ordinal", "bandPosition": 0, "title": null},
"y": {"field": "f", "type": "nominal", "sort": null, "title": null},
"text": {"field": "sub"}
}
}
]
}
